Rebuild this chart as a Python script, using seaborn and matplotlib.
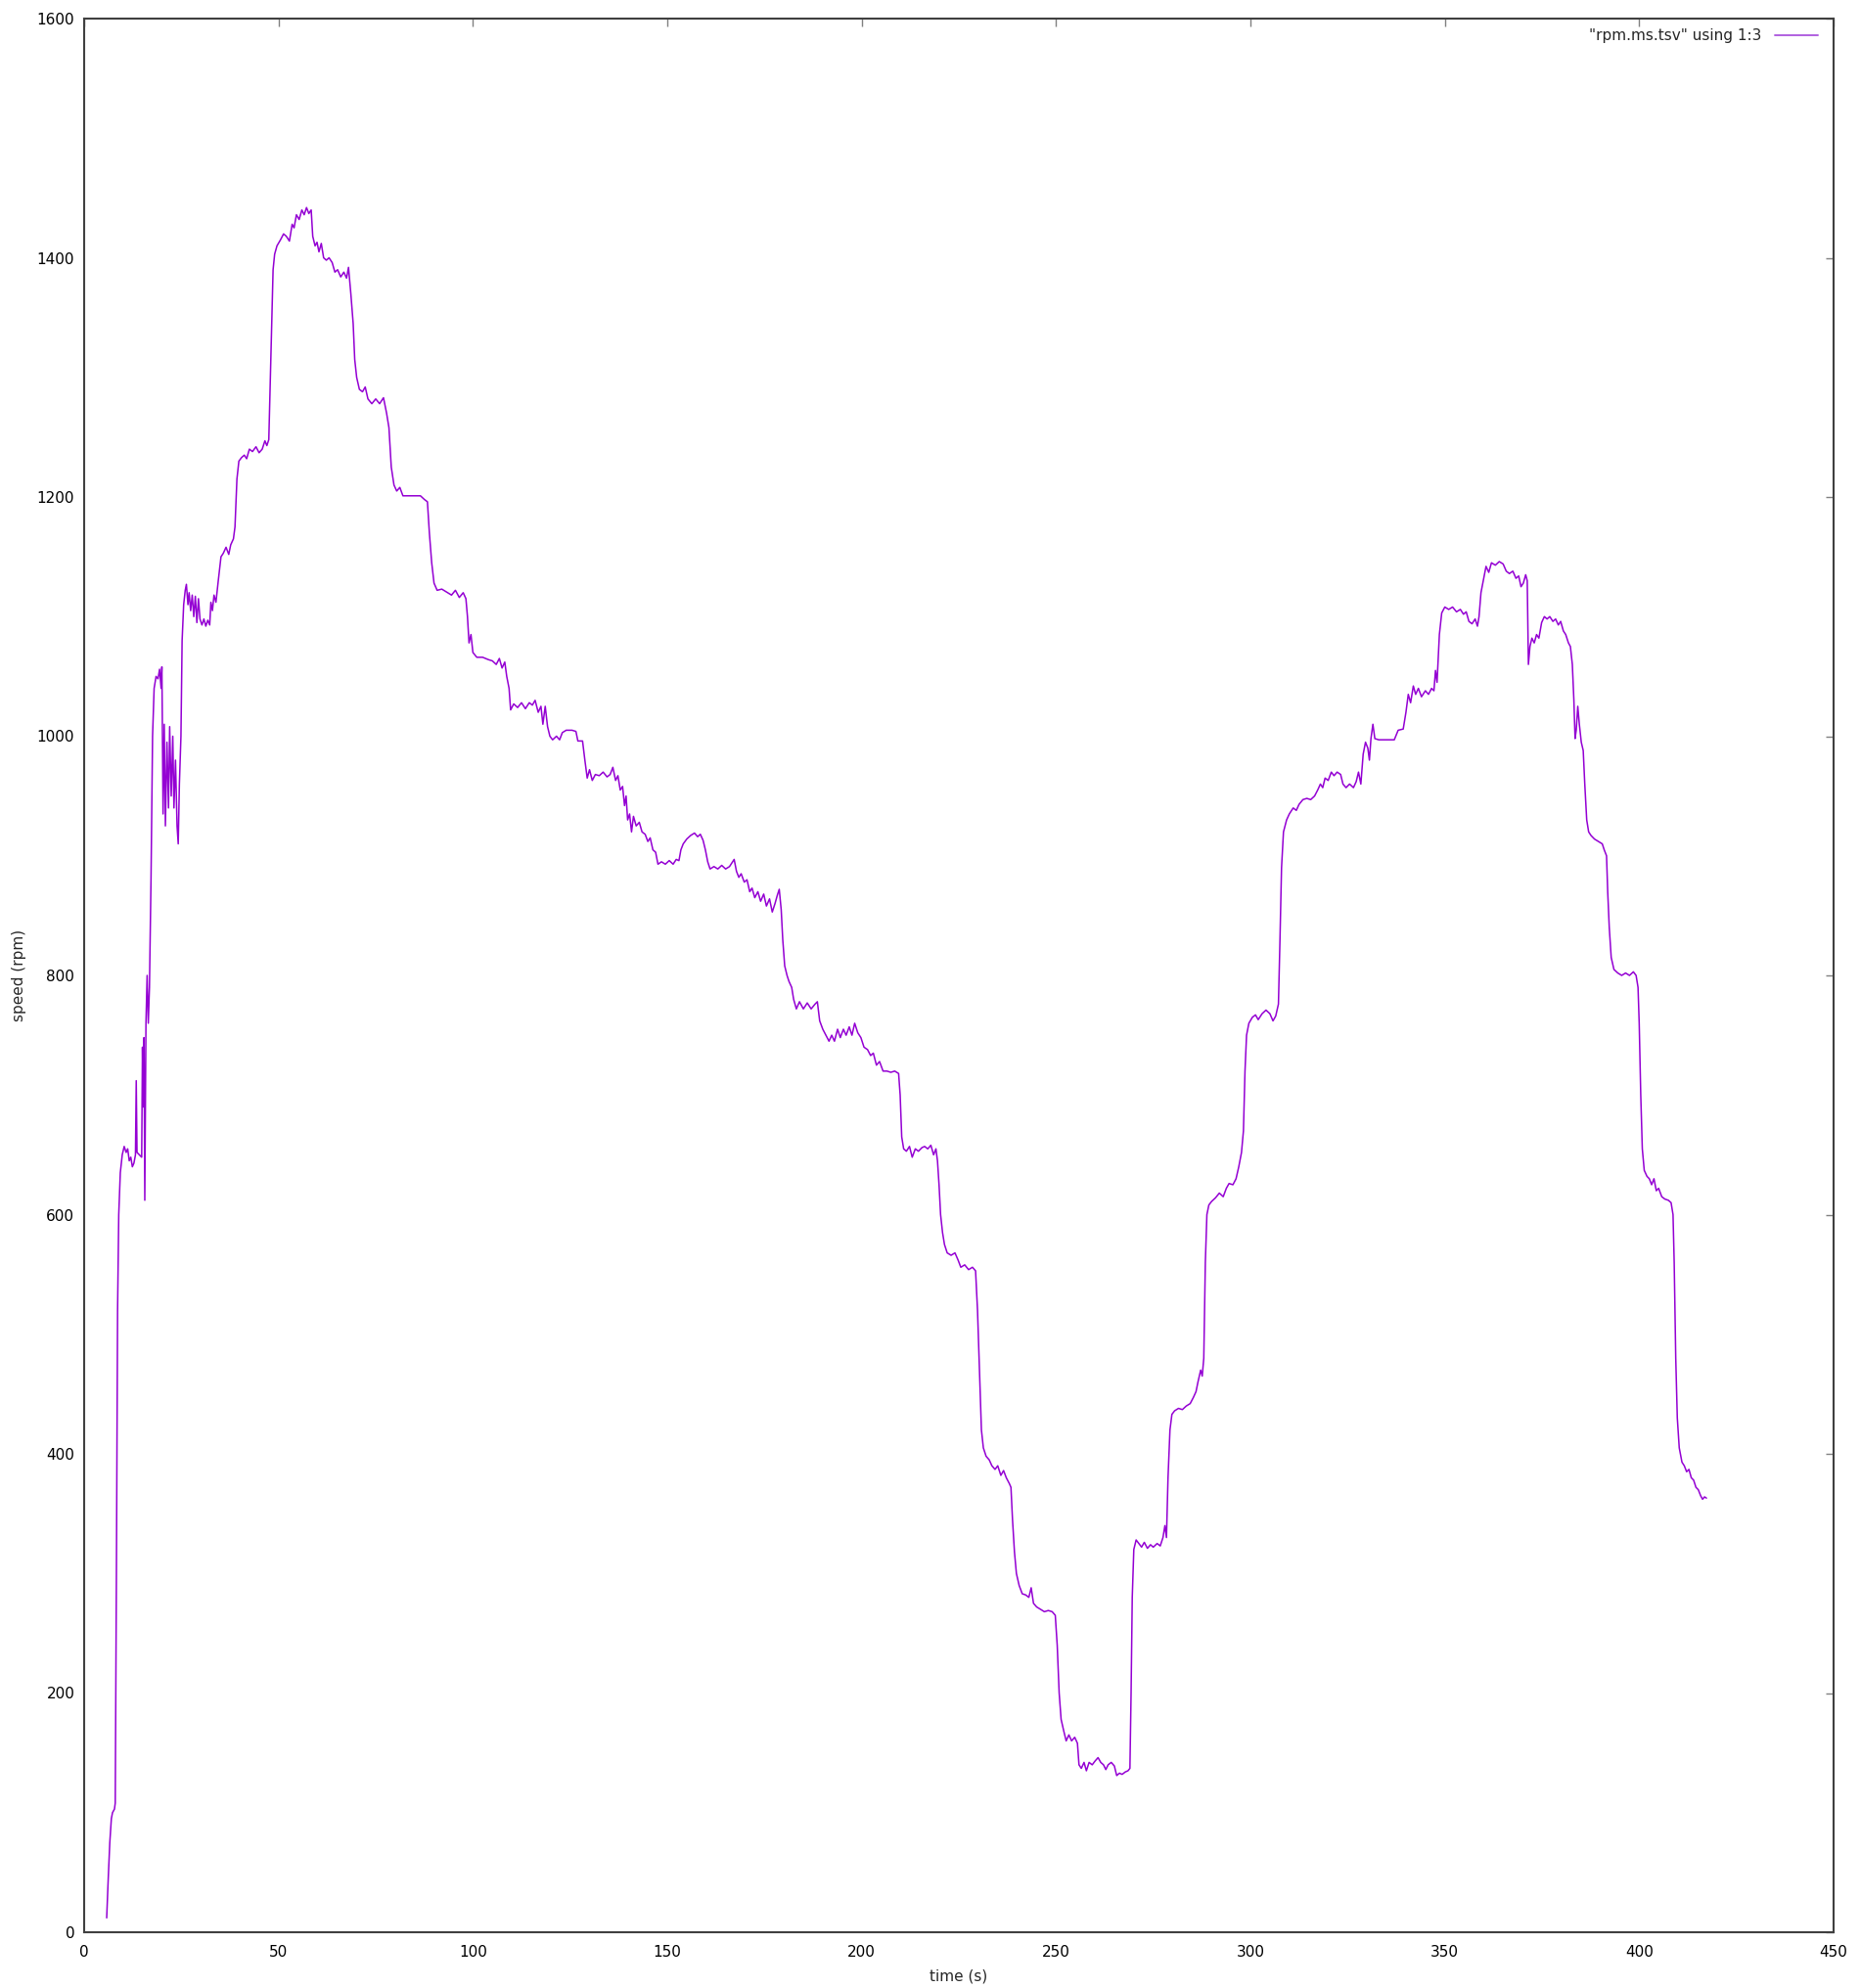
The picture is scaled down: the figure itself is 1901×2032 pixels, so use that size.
import matplotlib
matplotlib.use("Agg")
import matplotlib.pyplot as plt
import seaborn as sns
import pandas as pd

# time (s) and speed (rpm)
time_s = [
    5.8, 6.2, 6.6, 7.0, 7.3, 7.8, 8.0, 8.3, 8.6, 8.9, 9.3, 9.8, 10.3, 10.8, 11.2, 11.6, 12.0, 12.4, 12.8, 13.2,
    13.4, 13.6, 14.2, 14.8, 15.0, 15.2, 15.4, 15.6, 15.9, 16.2, 16.5, 16.8, 17.2, 17.6, 18.0, 18.5, 19.0, 19.4,
    19.8, 20.0, 20.3, 20.6, 20.9, 21.3, 21.7, 22.0, 22.4, 22.8, 23.1, 23.5, 23.9, 24.2, 24.5, 24.9, 25.2, 25.6,
    26.0, 26.3, 26.7, 27.0, 27.4, 27.8, 28.2, 28.6, 29.0, 29.4, 29.8, 30.3, 30.8, 31.3, 31.8, 32.3, 32.6, 33.0,
    33.4, 33.9, 34.5, 35.2, 35.8, 36.5, 37.2, 37.7, 38.4, 38.8, 39.3, 39.8, 40.5, 41.2, 41.8, 42.5, 43.3, 44.2,
    45.0, 45.8, 46.5, 47.0, 47.5, 47.9, 48.3, 48.6, 49.0, 49.6, 50.5, 51.3, 52.0, 52.8, 53.5, 54.0, 54.6, 55.3,
    56.0, 56.6, 57.2, 57.8, 58.4, 58.8, 59.4, 59.9, 60.4, 61.0, 61.6, 62.3, 63.0, 63.8, 64.5, 65.2, 66.0, 66.8,
    67.5, 68.0, 68.6, 69.2, 69.6, 70.1, 70.8, 71.6, 72.3, 73.0, 74.0, 75.0, 76.0, 77.0, 77.8, 78.4, 79.0, 79.7,
    80.4, 81.2, 82.0, 84.0, 86.5, 87.5, 88.3, 88.8, 89.4, 90.0, 90.8, 92.0, 93.5, 94.5, 95.5, 96.5, 97.5, 98.2,
    98.6, 99.0, 99.5, 100.0, 101.0, 102.5, 104.0, 105.0, 106.0, 106.8, 107.5, 108.2, 108.7, 109.3, 109.7, 110.5,
    111.5, 112.5, 113.5, 114.5, 115.3, 116.0, 116.8, 117.5, 118.0, 118.6, 119.2, 119.8, 120.5, 121.5, 122.3,
    123.0, 124.0, 125.5, 126.5, 127.0, 128.2, 128.8, 129.4, 130.0, 130.7, 131.5, 132.5, 133.5, 134.5, 135.3,
    136.0, 136.7, 137.3, 137.9, 138.5, 139.0, 139.4, 139.8, 140.3, 140.8, 141.3, 142.0, 142.8, 143.5, 144.3,
    145.0, 145.6, 146.3, 147.0, 147.6, 148.5, 149.5, 150.5, 151.5, 152.3, 153.0, 153.5, 154.1, 155.0, 156.0,
    157.0, 157.8, 158.5, 159.2, 159.8, 160.4, 161.0, 162.0, 163.0, 164.0, 165.0, 166.0, 167.2, 167.8, 168.4,
    169.0, 169.8, 170.5, 171.2, 171.8, 172.5, 173.3, 174.0, 174.8, 175.5, 176.3, 177.0, 177.7, 178.3, 178.8,
    179.3, 179.7, 180.2, 180.8, 181.3, 182.0, 182.5, 183.2, 184.0, 185.0, 186.0, 187.0, 188.0, 188.6, 189.2,
    190.0, 190.8, 191.6, 192.3, 193.0, 193.8, 194.5, 195.3, 196.0, 196.8, 197.5, 198.2, 199.0, 199.8, 200.6,
    201.5, 202.3, 203.0, 203.8, 204.6, 205.5, 206.5, 207.5, 208.5, 209.5, 209.9, 210.3, 210.8, 211.5, 212.3,
    213.0, 213.8, 214.6, 215.5, 216.2, 217.0, 217.8, 218.5, 219.1, 219.5, 219.9, 220.3, 220.8, 221.3, 222.0,
    223.0, 224.0, 224.8, 225.5, 226.5, 227.5, 228.5, 229.3, 229.8, 230.3, 230.8, 231.3, 232.0, 232.8, 233.5,
    234.3, 235.0, 235.8, 236.5, 237.2, 238.0, 238.4, 238.8, 239.3, 239.8, 240.5, 241.3, 242.2, 243.0, 243.6,
    244.2, 245.0, 246.0, 247.0, 248.0, 249.0, 249.8, 250.3, 250.8, 251.3, 252.0, 252.6, 253.3, 254.0, 254.8,
    255.5, 255.9, 256.5, 257.2, 257.8, 258.5, 259.3, 260.0, 260.8, 261.5, 262.2, 262.8, 263.4, 264.2, 265.0,
    265.6, 266.3, 267.0, 267.8, 268.5, 269.0, 269.3, 269.6, 270.0, 270.6, 271.3, 272.0, 272.7, 273.5, 274.3,
    275.0, 276.0, 276.8, 277.5, 278.0, 278.4, 278.8, 279.3, 279.8, 280.5, 281.5, 282.5, 283.5, 284.5, 285.3,
    286.0, 286.5, 287.2, 287.6, 288.0, 288.4, 288.8, 289.3, 290.0, 291.0, 292.0, 293.0, 293.8, 294.5, 295.5,
    296.3, 297.0, 297.7, 298.2, 298.6, 299.0, 299.6, 300.5, 301.3, 302.0, 303.0, 304.0, 305.0, 305.8, 306.5,
    307.2, 307.6, 308.0, 308.5, 309.3, 310.0, 311.0, 311.8, 312.5, 313.5, 314.5, 315.5, 316.5, 317.3, 318.0,
    318.6, 319.2, 320.0, 320.8, 321.5, 322.3, 323.2, 323.8, 324.6, 325.5, 326.5, 327.2, 327.8, 328.4, 329.0,
    329.6, 330.2, 330.6, 331.0, 331.5, 332.0, 333.0, 335.0, 337.0, 338.0, 339.3, 340.0, 340.6, 341.2, 341.9,
    342.5, 343.2, 344.0, 345.0, 345.8, 346.6, 347.2, 347.6, 348.0, 348.6, 349.2, 350.0, 351.0, 352.0, 353.0,
    354.0, 354.8, 355.5, 356.2, 357.0, 357.8, 358.4, 358.8, 359.3, 360.0, 360.6, 361.3, 362.0, 363.0, 364.0,
    365.0, 365.8, 366.6, 367.5, 368.3, 369.0, 369.6, 370.2, 370.8, 371.2, 371.5, 371.9, 372.4, 373.0, 373.6,
    374.2, 374.9, 375.6, 376.3, 377.0, 377.8, 378.5, 379.2, 379.8, 380.5, 381.1, 381.8, 382.3, 382.8, 383.2,
    383.5, 383.8, 384.2, 384.6, 385.1, 385.6, 386.0, 386.5, 387.0, 387.6, 388.5, 389.5, 390.5, 391.0, 391.6,
    391.9, 392.3, 392.8, 393.5, 394.5, 395.5, 396.5, 397.5, 398.5, 399.2, 399.7, 400.0, 400.4, 400.8, 401.3,
    402.0, 402.6, 403.2, 403.8, 404.4, 405.0, 405.8, 406.6, 407.5, 408.2, 408.7, 409.0, 409.4, 409.8, 410.3,
    411.0, 411.6, 412.2, 412.8, 413.4, 414.0, 414.6, 415.2, 415.8, 416.3, 416.8, 417.3,
]
speed_rpm = [
    12, 45, 75, 95, 100, 103, 108, 300, 520, 600, 635, 650, 657, 652, 655, 645, 648, 640, 643, 650,
    712, 652, 650, 648, 740, 690, 748, 612, 760, 800, 760, 790, 880, 1000, 1040, 1050, 1048, 1056,
    1040, 1058, 935, 1010, 925, 995, 940, 1008, 950, 1000, 940, 980, 925, 910, 960, 1000, 1080, 1110,
    1122, 1127, 1110, 1120, 1105, 1118, 1100, 1117, 1095, 1115, 1098, 1093, 1098, 1092, 1097, 1093, 1112, 1105,
    1118, 1112, 1130, 1150, 1153, 1158, 1152, 1160, 1165, 1175, 1215, 1230, 1233, 1235, 1232, 1240, 1238, 1242,
    1237, 1240, 1247, 1243, 1248, 1300, 1350, 1390, 1403, 1410, 1415, 1420, 1418, 1414, 1428, 1425, 1436, 1432,
    1440, 1436, 1442, 1437, 1440, 1418, 1410, 1413, 1405, 1412, 1400, 1398, 1400, 1396, 1388, 1390, 1384, 1388,
    1383, 1392, 1370, 1345, 1315, 1300, 1290, 1288, 1292, 1282, 1278, 1282, 1278, 1283, 1270, 1258, 1225, 1210,
    1205, 1208, 1201, 1201, 1201, 1198, 1196, 1170, 1145, 1128, 1122, 1123, 1120, 1118, 1122, 1116, 1120, 1115,
    1100, 1078, 1085, 1070, 1066, 1066, 1064, 1063, 1060, 1065, 1057, 1062, 1050, 1040, 1022, 1027,
    1024, 1028, 1023, 1028, 1026, 1030, 1020, 1025, 1010, 1025, 1008, 1000, 997, 1000, 997,
    1003, 1005, 1005, 1004, 996, 996, 980, 965, 972, 963, 968, 967, 970, 966, 968,
    974, 963, 967, 955, 958, 942, 950, 930, 935, 920, 933, 925, 928, 920, 918,
    912, 915, 905, 903, 893, 895, 893, 896, 893, 897, 896, 905, 910, 914, 917,
    919, 916, 918, 913, 905, 895, 889, 891, 889, 892, 889, 891, 897, 887, 882,
    885, 878, 880, 870, 873, 865, 870, 862, 868, 858, 864, 853, 860, 867, 872,
    855, 830, 808, 800, 795, 790, 780, 772, 778, 772, 777, 772, 776, 778, 762,
    755, 750, 745, 750, 745, 755, 748, 755, 750, 757, 750, 760, 752, 748, 740,
    738, 733, 735, 725, 728, 720, 720, 719, 720, 718, 700, 665, 655, 653, 657,
    648, 655, 653, 656, 657, 655, 658, 650, 655, 645, 625, 600, 585, 575, 568,
    566, 568, 562, 556, 558, 554, 556, 553, 520, 470, 420, 405, 398, 395, 390,
    387, 390, 382, 386, 380, 375, 372, 345, 318, 300, 290, 283, 282, 280, 288,
    275, 272, 270, 268, 269, 268, 265, 240, 200, 178, 168, 160, 165, 160, 163,
    158, 140, 137, 142, 135, 142, 140, 143, 146, 142, 140, 136, 140, 142, 139,
    131, 133, 132, 134, 135, 137, 200, 280, 320, 328, 325, 322, 326, 321, 324,
    322, 325, 323, 330, 340, 330, 380, 420, 433, 436, 438, 437, 440, 442, 447,
    452, 460, 470, 465, 480, 560, 600, 608, 611, 614, 618, 615, 622, 626, 625,
    630, 640, 652, 670, 720, 750, 760, 765, 767, 763, 768, 771, 768, 762, 766,
    776, 830, 890, 920, 930, 935, 940, 938, 943, 947, 948, 947, 950, 955, 960,
    957, 965, 963, 970, 967, 970, 968, 960, 957, 960, 957, 962, 970, 960, 985,
    995, 990, 980, 998, 1010, 998, 997, 997, 997, 1005, 1006, 1020, 1035, 1028, 1042,
    1035, 1040, 1033, 1038, 1035, 1040, 1038, 1055, 1045, 1085, 1103, 1108, 1106, 1108, 1104,
    1106, 1102, 1104, 1096, 1094, 1098, 1092, 1100, 1120, 1132, 1142, 1137, 1145, 1143, 1146,
    1144, 1138, 1136, 1138, 1132, 1134, 1125, 1128, 1135, 1130, 1060, 1075, 1082, 1078, 1085,
    1082, 1095, 1100, 1098, 1100, 1096, 1098, 1093, 1096, 1088, 1085, 1078, 1075, 1060, 1030,
    998, 1005, 1025, 1010, 995, 988, 960, 930, 920, 917, 914, 912, 910, 905, 900,
    870, 840, 815, 805, 802, 800, 802, 800, 803, 800, 790, 760, 700, 655, 637,
    632, 630, 625, 630, 620, 622, 615, 613, 612, 610, 600, 560, 480, 430, 405,
    393, 390, 385, 387, 380, 378, 372, 370, 365, 362, 364, 363,
]
series_label = '"rpm.ms.tsv" using 1:3'
x_ticks = [0, 50, 100, 150, 200, 250, 300, 350, 400, 450]
y_ticks = [0, 200, 400, 600, 800, 1000, 1200, 1400, 1600]

df = pd.DataFrame({"time": time_s, "speed": speed_rpm})

sns.set_style("white")
plt.rcParams["font.family"] = ["DejaVu Sans"]

W, H = 1901, 2032
fig = plt.figure(figsize=(W / 100, H / 100), dpi=100)
ax = fig.add_axes([86 / W, (H - 1975) / H, (1874 - 86) / W, (1975 - 19) / H])

sns.lineplot(data=df, x="time", y="speed", ax=ax, sort=False, estimator=None,
             color="#9400D3", linewidth=1.1, label=series_label)

ax.set_xlim(0, 450)
ax.set_ylim(0, 1600)
ax.set_xticks(x_ticks)
ax.set_yticks(y_ticks)
ax.tick_params(axis="both", direction="in", length=5.5, width=1.0, color="#808080",
               labelsize=11, labelcolor="black", top=True, right=True)
ax.tick_params(axis="y", pad=7)
ax.tick_params(axis="x", pad=9)
for s in ax.spines.values():
    s.set_color("#404040")
    s.set_linewidth(1.5)
    s.set_visible(True)

ax.set_xlabel("time (s)", fontsize=11, labelpad=7)
ax.set_ylabel("speed (rpm)", fontsize=11, labelpad=8)

leg = ax.legend(loc="upper right", frameon=False, markerfirst=False, fontsize=11,
                handlelength=2.9, handletextpad=0.9, borderaxespad=0.25,
                bbox_to_anchor=(1 - 6 / 1788, 1.0))
for ln in leg.get_lines():
    ln.set_linewidth(1.4)
    ln.set_color("#b060e0")

fig.savefig("out.png", dpi=100, facecolor="white")
